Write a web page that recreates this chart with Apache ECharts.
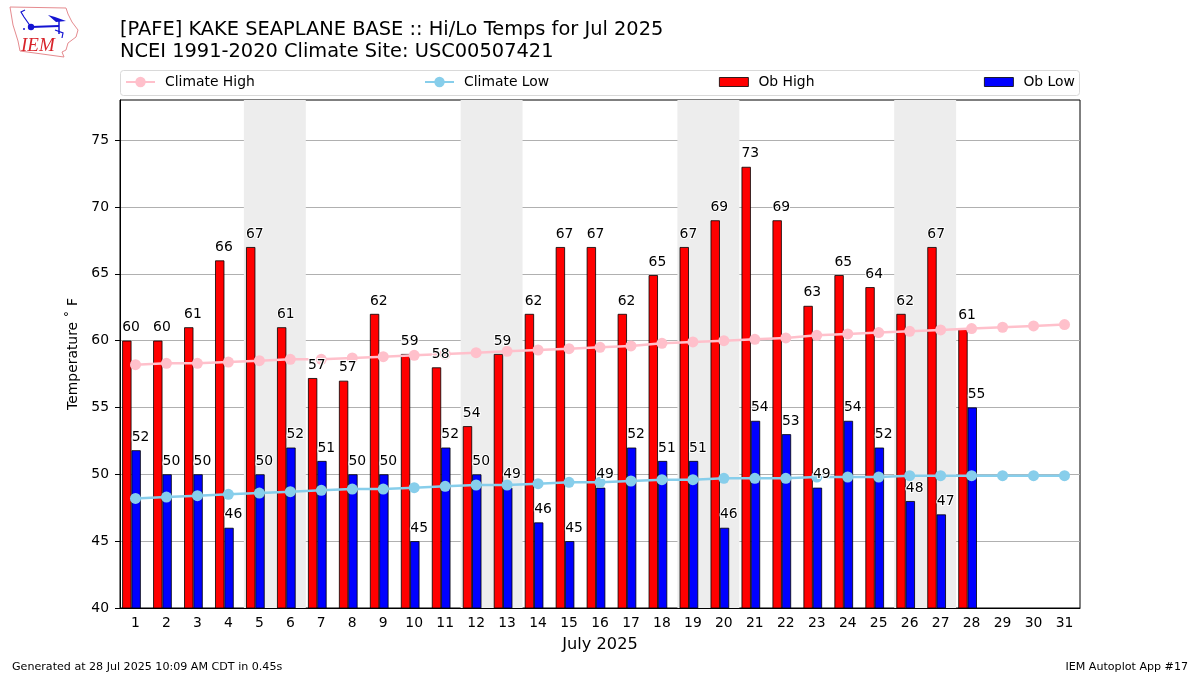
<!DOCTYPE html>
<html style="height: 100%">
<head>
	<meta charset="utf-8">
	<title>Hi/Lo Temps</title>
	<script src="https://cdn.jsdelivr.net/npm/echarts@6/dist/echarts.min.js"></script>
</head>
<body style="height: 100%; margin: 0; background: #fff">
	<div id="chart" style="width: 1200px; height: 675px"></div>
	<script type="text/javascript">
		var days = ['1','2','3','4','5','6','7','8','9','10','11','12','13','14','15','16','17','18','19','20','21','22','23','24','25','26','27','28','29','30','31'];
		var obHigh = [60,60,61,66,67,61,57.2,57,62,59,58,53.6,59,62,67,67,62,64.9,67,69,73,69,62.6,64.9,64,62,67,60.9,null,null,null];
		var obLow = [51.8,50,50,46,50,52,51,50,50,45,52,50,49,46.4,45,49,52,51,51,46,54,53,49,54,52,48,47,55,null,null,null];
		var climateHigh = [58.2,58.3,58.3,58.4,58.5,58.6,58.6,58.7,58.8,58.9,59,59.1,59.2,59.3,59.4,59.5,59.6,59.8,59.9,60,60.1,60.2,60.4,60.5,60.6,60.7,60.8,60.9,61,61.1,61.2];
		var climateLow = [48.2,48.3,48.4,48.5,48.6,48.7,48.8,48.9,48.9,49,49.1,49.2,49.2,49.3,49.4,49.4,49.5,49.6,49.6,49.7,49.7,49.7,49.8,49.8,49.8,49.9,49.9,49.9,49.9,49.9,49.9];
		var weekendDays = [[5,6],[12,13],[19,20],[26,27]];
		var yTicks = [40,45,50,55,60,65,70,75];

		var font = '"DejaVu Sans"';

		// one legend per entry, matplotlib spreads them over the full width
		var legendAt = function(name, left, isBar){
			var o = {
				data: [name],
				left: left,
				top: 75,
				padding: 0,
				itemWidth: 29,
				itemHeight: isBar ? 9 : 13,
				selectedMode: false,
				textStyle: {fontFamily: font, fontSize: 13.9, color: '#000', padding: [0,0,0,5]}
			};
			if(isBar){
				o.icon = 'rect';
				o.itemStyle = {borderWidth: 0.8};
			}
			return o;
		};

		var numberLabels = function(name, data, offset){
			return {
				name: name,
				type: 'scatter',
				data: data,
				symbolSize: 0,
				z: 6,
				silent: true,
				itemStyle: {opacity: 1},
				label: {
					show: true,
					position: 'top',
					distance: 6,
					offset: offset,
					fontFamily: font,
					fontSize: 13.9,
					color: '#000',
					textBorderColor: '#fff',
					textBorderWidth: 2,
					formatter: function(p){ return Math.round(p.value); }
				}
			};
		};

		var climateLine = function(name, data, color){
			return {
				name: name,
				type: 'line',
				data: data,
				z: 4,
				symbol: 'circle',
				symbolSize: 11,
				showAllSymbol: true,
				lineStyle: {color: color, width: 2.5},
				itemStyle: {color: color}
			};
		};

		var obBar = function(name, data, color){
			return {
				name: name,
				type: 'bar',
				data: data,
				z: 3,
				barWidth: 9.3,
				barGap: 0,
				itemStyle: {color: color, borderColor: '#000', borderWidth: 0.8}
			};
		};

		var option = {
			animation: false,
			backgroundColor: '#fff',
			grid: {left: 120, right: 120, top: 100, bottom: 67, show: true, borderColor: '#000', borderWidth: 1, backgroundColor: 'transparent'},
			legend: [
				legendAt('Climate High', 125, false),
				legendAt('Climate Low', 424, false),
				legendAt('Ob High', 719, true),
				legendAt('Ob Low', 984, true)
			],
			xAxis: [{
				type: 'category',
				data: days,
				axisLine: {lineStyle: {color: '#000', width: 1}},
				axisTick: {alignWithLabel: true, length: 5, lineStyle: {color: '#000'}},
				axisLabel: {interval: 0, fontFamily: font, fontSize: 13.9, color: '#000', margin: 8},
				name: 'July 2025',
				nameLocation: 'middle',
				nameGap: 29,
				nameTextStyle: {fontFamily: font, fontSize: 16.2, color: '#000'}
			}, {
				// hidden scale for the weekend bands
				type: 'value',
				min: 0.5,
				max: 31.5,
				show: false
			}],
			yAxis: {
				type: 'value',
				min: 40,
				max: 78,
				interval: 5,
				axisLine: {show: true, lineStyle: {color: '#000', width: 1}},
				axisTick: {show: true, length: 5, lineStyle: {color: '#000'}, customValues: yTicks},
				axisLabel: {fontFamily: font, fontSize: 13.9, color: '#000', margin: 11, padding: [2,0,0,0], customValues: yTicks},
				splitLine: {show: true, lineStyle: {color: '#b0b0b0', width: 1}},
				name: 'Temperature \u02da F',
				nameLocation: 'middle',
				nameGap: 35,
				nameTextStyle: {fontFamily: font, fontSize: 13.9, color: '#000'}
			},
			series: [
				{
					name: 'weekends',
					type: 'line',
					xAxisIndex: 1,
					data: [],
					z: -1,
					markArea: {
						silent: true,
						itemStyle: {color: '#ededed'},
						data: weekendDays.map(function(d){
							return [{xAxis: d[0] - 0.5}, {xAxis: d[1] + 0.5}];
						})
					}
				},
				climateLine('Climate High', climateHigh, '#ffc0cb'),
				climateLine('Climate Low', climateLow, '#87ceeb'),
				obBar('Ob High', obHigh, '#ff0000'),
				obBar('Ob Low', obLow, '#0000ff'),
				// empty bar, pushes the pair left of the tick like the original
				{name: 'spacer', type: 'bar', data: [], barWidth: 8, barGap: 0},
				numberLabels('high labels', obHigh, [-4.5, 0]),
				numberLabels('low labels', obLow, [5, 0])
			],
			graphic: [
				{type: 'rect', z: -2, shape: {x: 120.5, y: 70.5, width: 959, height: 25, r: 3}, style: {fill: '#fff', stroke: '#d9d9d9', lineWidth: 1}},
				{type: 'text', x: 120, y: 20, style: {text: '[PAFE] KAKE SEAPLANE BASE :: Hi/Lo Temps for Jul 2025', font: '19.4px ' + font, fill: '#000'}},
				{type: 'text', x: 120, y: 42, style: {text: 'NCEI 1991-2020 Climate Site: USC00507421', font: '19.4px ' + font, fill: '#000'}},
				{type: 'text', x: 12, y: 662, style: {text: 'Generated at 28 Jul 2025 10:09 AM CDT in 0.45s', font: '11.1px ' + font, fill: '#000'}},
				{type: 'text', x: 1188, y: 662, style: {text: 'IEM Autoplot App #17', font: '11.1px ' + font, fill: '#000', align: 'right'}},
				// logo
				{type: 'polygon', shape: {points: [[10,7],[66,8],[68,14],[72,22],[78,30],[76,37],[68,43],[66,50],[62,52],[64,57],[20,51],[18,41],[13,25]]}, style: {fill: '#fff', stroke: '#e58b8f', lineWidth: 1}},
				{type: 'polyline', shape: {points: [[31,27],[59,26]]}, style: {stroke: '#1414d2', lineWidth: 2, fill: null}},
				{type: 'polyline', shape: {points: [[31,27],[24,17],[21,12],[25,10]]}, style: {stroke: '#1414d2', lineWidth: 1.2, fill: null}},
				{type: 'polyline', shape: {points: [[59,21],[59,34]]}, style: {stroke: '#1414d2', lineWidth: 1.5, fill: null}},
				{type: 'polyline', shape: {points: [[55,30],[63,33],[62,38]]}, style: {stroke: '#1414d2', lineWidth: 1.2, fill: null}},
				{type: 'polygon', shape: {points: [[48,15],[55,17],[66,21],[56,22]]}, style: {fill: '#1414d2'}},
				{type: 'circle', shape: {cx: 31, cy: 27, r: 3.2}, style: {fill: '#1414d2'}},
				{type: 'circle', shape: {cx: 24, cy: 29, r: 1}, style: {fill: '#1414d2'}},
				{type: 'text', x: 21, y: 36, style: {text: 'IEM', font: 'italic 19px "Liberation Serif"', fill: '#d8232a'}}
			]
		};

		var myChart = echarts.init(document.getElementById('chart'), null, {renderer: 'canvas'});
		myChart.setOption(option);
	</script>
</body>
</html>
